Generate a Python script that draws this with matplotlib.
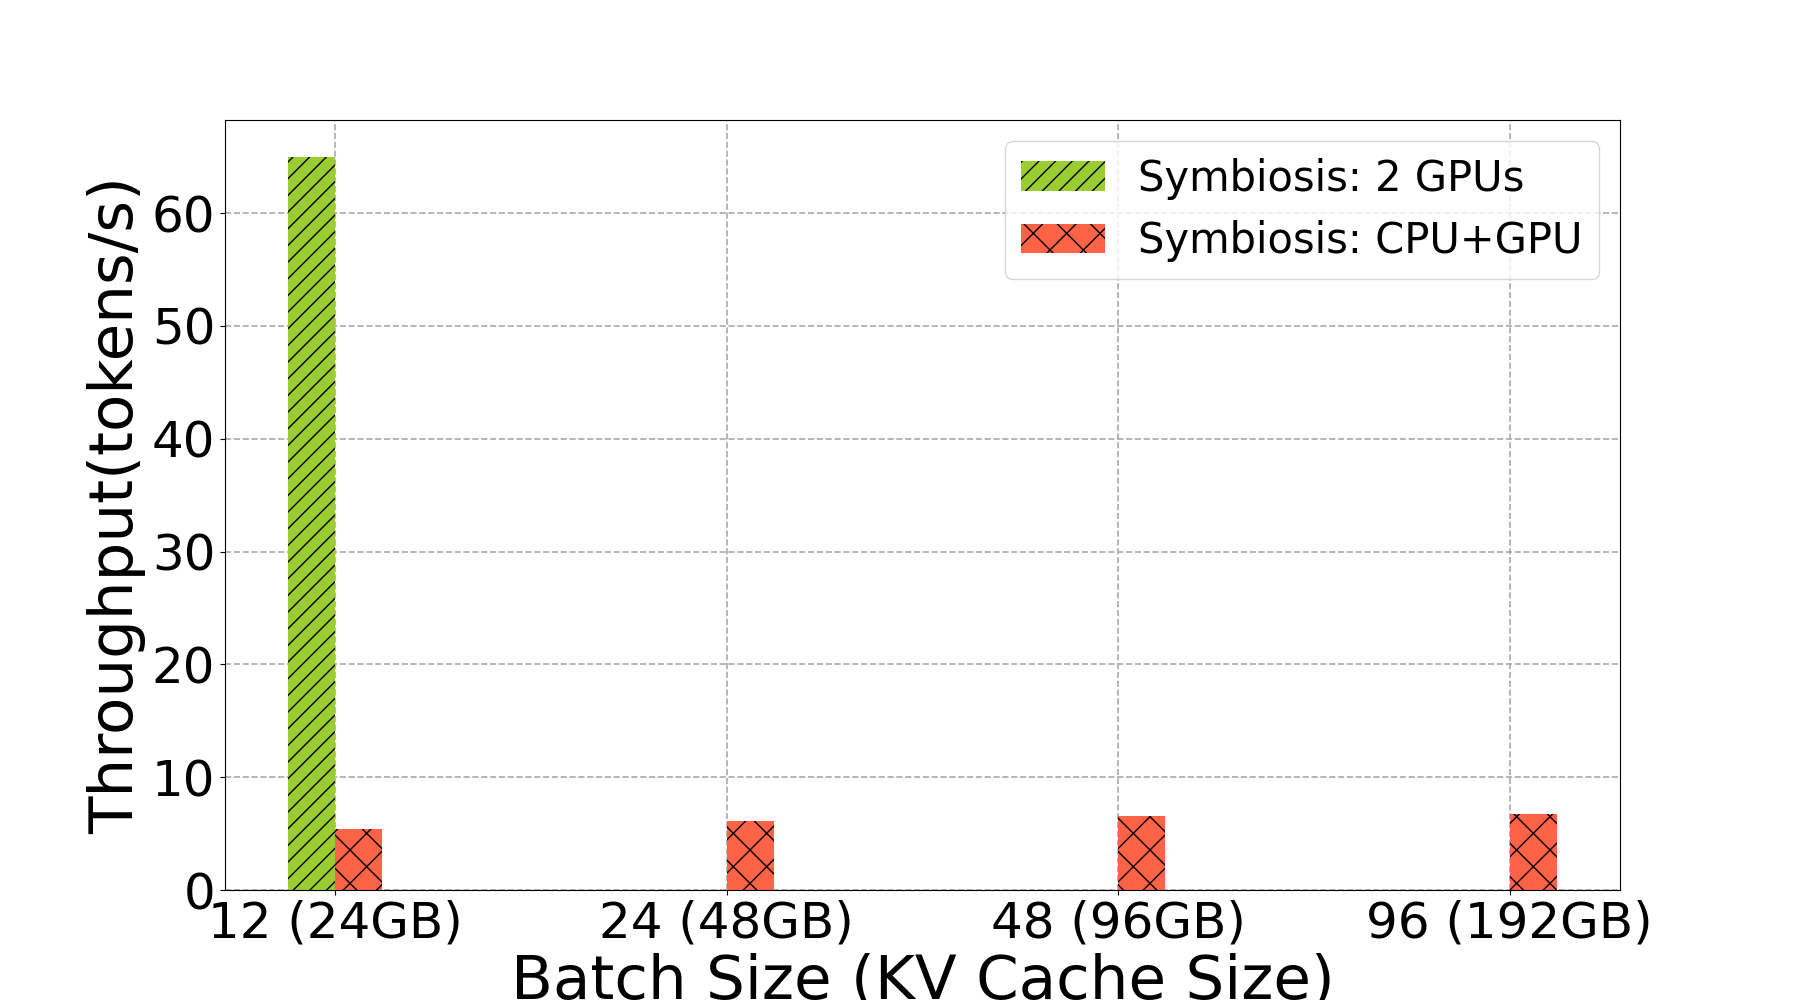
import numpy as np
import matplotlib
matplotlib.use('Agg')
import matplotlib.pyplot as plt

labels = ['12 (24GB)', '24 (48GB)', '48 (96GB)', '96 (192GB)']
gpu2 = [65.0, 0, 0, 0]
cpu_gpu = [5.4, 6.15, 6.6, 6.7]

x = np.arange(len(labels))
w = 0.12

fig, ax = plt.subplots(figsize=(18, 10), dpi=100)
ax.bar(x - w, gpu2, w, align='edge', color='yellowgreen', hatch='//',
       label='Symbiosis: 2 GPUs')
ax.bar(x, cpu_gpu, w, align='edge', color='tomato', hatch='x',
       label='Symbiosis: CPU+GPU')

ax.set_xticks(x)
ax.set_xticklabels(labels, fontsize=36)
ax.tick_params(axis='y', labelsize=36)
ax.set_xlabel('Batch Size (KV Cache Size)', fontsize=44)
ax.set_ylabel('Throughput(tokens/s)', fontsize=44)
ax.grid(True, linestyle='--', color='darkgray', linewidth=1.2)
ax.set_axisbelow(True)
ax.legend(loc='upper right', fontsize=30)

plt.savefig('out.png')
